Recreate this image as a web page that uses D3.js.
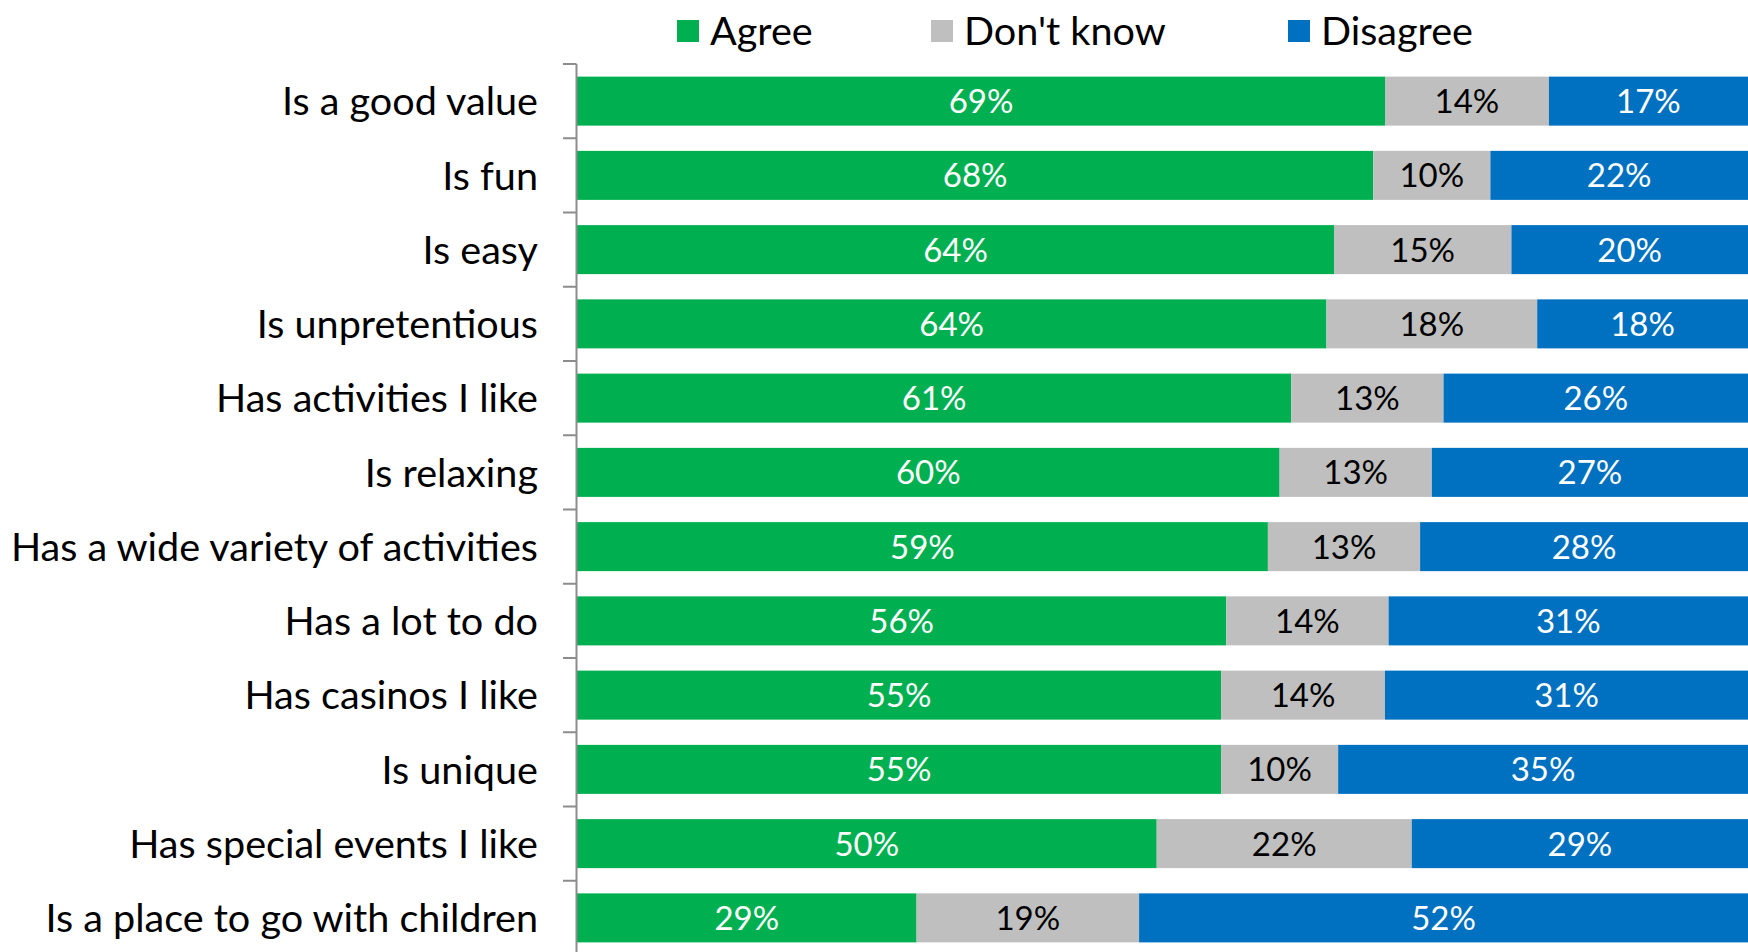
<!DOCTYPE html>
<html>
<head>
<meta charset="utf-8">
<script src="https://cdn.jsdelivr.net/npm/d3@7"></script>
<style>
  html, body { margin: 0; padding: 0; background: #ffffff; overflow: hidden; }
  svg { display: block; }
  text { font-family: "Gill Sans MT", "Gill Sans", Lato, "Open Sans", sans-serif; }
</style>
</head>
<body>
<svg id="chart" width="1748" height="952"></svg>
<script>
// Survey statements, top to bottom
const categories = [
  "Is a good value",
  "Is fun",
  "Is easy",
  "Is unpretentious",
  "Has activities I like",
  "Is relaxing",
  "Has a wide variety of activities",
  "Has a lot to do",
  "Has casinos I like",
  "Is unique",
  "Has special events I like",
  "Is a place to go with children"
];

// Response shares (%)
const agree    = [69, 68, 64, 64, 61, 60, 59, 56, 55, 55, 50, 29];
const dontKnow = [14, 10, 15, 18, 13, 13, 13, 14, 14, 10, 22, 19];
const disagree = [17, 22, 20, 18, 26, 27, 28, 31, 31, 35, 29, 52];

const seriesNames  = ["Agree", "Don't know", "Disagree"];
const seriesColors = ["#00B050", "#BFBFBF", "#0070C0"];
const labelColors  = ["#ffffff", "#000000", "#ffffff"];

const plotLeft = 577, plotRight = 1748;
const plotTop = 64, step = 74.25;
const plotBottom = plotTop + step * categories.length;

const svg = d3.select("#chart");

const rows = categories.map((c, i) => ({
  category: c,
  "Agree": agree[i],
  "Don't know": dontKnow[i],
  "Disagree": disagree[i]
}));

// 100% stacked: each row is normalised to its own total
const stacked = d3.stack()
  .keys(seriesNames)
  .offset(d3.stackOffsetExpand)(rows);

const x = d3.scaleLinear().domain([0, 1]).range([plotLeft, plotRight]);
const y = d3.scaleBand()
  .domain(categories)
  .range([plotTop, plotBottom])
  .paddingInner(0.34)
  .paddingOuter(0.17);

const color = d3.scaleOrdinal().domain(seriesNames).range(seriesColors);
const textColor = d3.scaleOrdinal().domain(seriesNames).range(labelColors);

const segments = stacked.flatMap(layer =>
  layer.map(p => ({ key: layer.key, x0: p[0], x1: p[1], row: p.data }))
);

// Stacked bar segments
svg.append("g").attr("class", "bars")
  .selectAll("rect")
  .data(segments)
  .join("rect")
  .attr("x", d => x(d.x0))
  .attr("y", d => y(d.row.category))
  .attr("width", d => x(d.x1) - x(d.x0))
  .attr("height", y.bandwidth())
  .attr("fill", d => color(d.key));

// Value labels centred in each segment
const valueFont = 33;
svg.append("g").attr("class", "values")
  .selectAll("text")
  .data(segments)
  .join("text")
  .attr("x", d => (x(d.x0) + x(d.x1)) / 2)
  .attr("y", d => y(d.row.category) + y.bandwidth() / 2 + valueFont * 0.36)
  .attr("text-anchor", "middle")
  .attr("font-size", valueFont)
  .attr("fill", d => textColor(d.key))
  .text(d => `${d.row[d.key]}%`);

// Category axis with ticks between bands
const axis = svg.append("g").attr("class", "y-axis");
axis.append("line")
  .attr("x1", plotLeft - 0.5).attr("x2", plotLeft - 0.5)
  .attr("y1", plotTop).attr("y2", plotBottom)
  .attr("stroke", "#8c8c8c").attr("stroke-width", 2);

axis.selectAll("line.tick")
  .data(d3.range(categories.length + 1))
  .join("line")
  .attr("class", "tick")
  .attr("x1", plotLeft - 14).attr("x2", plotLeft - 0.5)
  .attr("y1", i => plotTop + i * y.step())
  .attr("y2", i => plotTop + i * y.step())
  .attr("stroke", "#8c8c8c").attr("stroke-width", 2);

const catFont = 39.6;
axis.selectAll("text")
  .data(categories)
  .join("text")
  .attr("x", plotLeft - 39)
  .attr("y", d => y(d) + y.bandwidth() / 2 + catFont * 0.36)
  .attr("text-anchor", "end")
  .attr("font-size", catFont)
  .attr("fill", "#000")
  .text(d => d);

// Legend
const legendX = [677, 931, 1288];
const legend = svg.append("g").attr("class", "legend")
  .selectAll("g")
  .data(seriesNames)
  .join("g")
  .attr("transform", (d, i) => `translate(${legendX[i]},20)`);

legend.append("rect")
  .attr("width", 22).attr("height", 22)
  .attr("fill", d => color(d));

legend.append("text")
  .attr("x", 33)
  .attr("y", 25)
  .attr("font-size", 39.6)
  .attr("fill", "#000")
  .text(d => d);
</script>
</body>
</html>
